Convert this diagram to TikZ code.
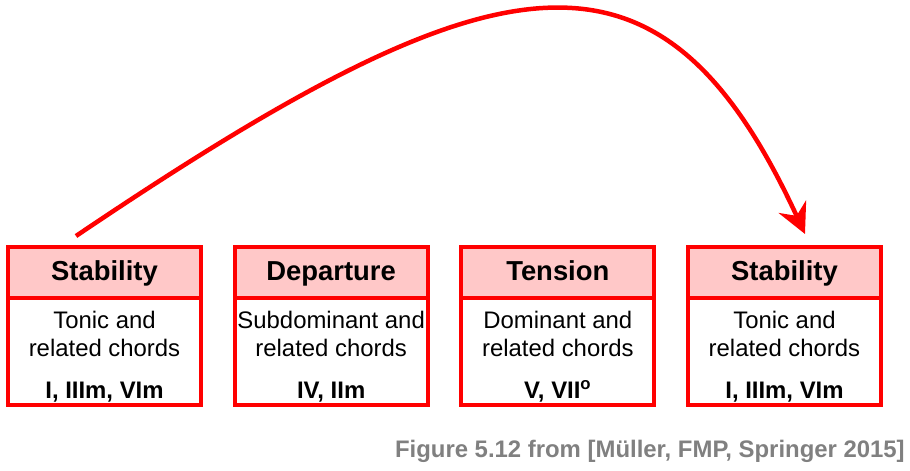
\documentclass[tikz,border=0pt]{standalone}
\usepackage{fontspec}
\setmainfont{Liberation Sans}
\usetikzlibrary{positioning,arrows.meta}
\definecolor{boxred}{RGB}{255,0,0}
\definecolor{headpink}{RGB}{255,200,200}
\definecolor{capgray}{RGB}{128,128,128}
\newcommand{\bodystrut}{\rule{0pt}{19.5pt}}

\begin{document}
\begin{tikzpicture}[x=0.025cm, y=-0.025cm, node distance=5.665cm, head/.style={rectangle, draw=boxred, fill=headpink, line width=3pt, outer sep=0pt, minimum width=4.825cm, minimum height=1.28cm, text height=14pt, text depth=3pt, font=\fontsize{19.5}{22}\selectfont\bfseries}, body/.style={rectangle, draw=boxred, line width=3pt, outer sep=0pt, inner sep=0pt, minimum width=4.825cm, minimum height=2.68cm, align=center, font=\fontsize{17}{20}\selectfont}]
  \useasboundingbox (0,0) rectangle (910,470);
  \node[head] (head1) at (104.5,272.3) {Stability};
  \node[head, right of=head1] (head2) {Departure};
  \node[head, right of=head2] (head3) {Tension};
  \node[head, right of=head3] (head4) {Stability};
  \node[body, below=0pt of head1] (body1) {\bodystrut Tonic and\\related chords\\[10pt]\textbf{I, IIIm, VIm}};
  \node[body, below=0pt of head2] (body2) {\bodystrut Subdominant and\\related chords\\[10pt]\textbf{IV, IIm}};
  \node[body, below=0pt of head3] (body3) {\bodystrut Dominant and\\related chords\\[10pt]\textbf{V, VII\textsuperscript{o}}};
  \node[body, below=0pt of head4] (body4) {\bodystrut Tonic and\\related chords\\[10pt]\textbf{I, IIIm, VIm}};

  \coordinate (start) at (76,236);
  \coordinate (end) at (805,234);
  \draw[boxred, line width=3.2pt, -{Stealth[length=7.5mm, width=7.5mm, inset=2.5mm]}] (start) .. controls (500,-50) and (660,-80) .. (end);

  \node[anchor=east, inner sep=0pt, text=capgray, font=\fontsize{17}{19}\selectfont\bfseries] (caption) at (905,451) {Figure 5.12 from [Müller, FMP, Springer 2015]};
\end{tikzpicture}
\end{document}
